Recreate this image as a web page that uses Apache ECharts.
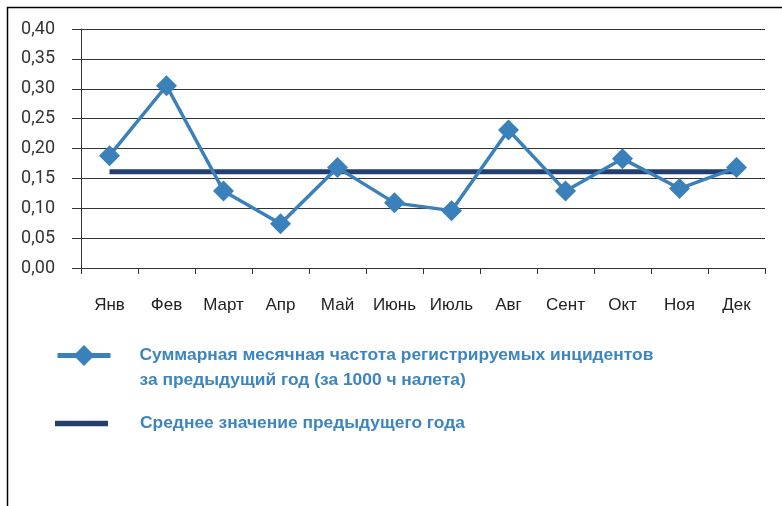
<!DOCTYPE html>
<html>
<head>
<meta charset="utf-8">
<script src="https://cdn.jsdelivr.net/npm/echarts@6/dist/echarts.min.js"></script>
<style>
  html, body { margin: 0; padding: 0; background: #fff; }
  #main { width: 782px; height: 506px; }
</style>
</head>
<body>
<div id="main"></div>
<script>
// данные графика
var months = ['Янв', 'Фев', 'Март', 'Апр', 'Май', 'Июнь', 'Июль', 'Авг', 'Сент', 'Окт', 'Ноя', 'Дек'];
var monthly = [0.188, 0.305, 0.129, 0.074, 0.168, 0.109, 0.096, 0.231, 0.129, 0.183, 0.133, 0.168];
var average = [0.161, 0.161, 0.161, 0.161, 0.161, 0.161, 0.161, 0.161, 0.161, 0.161, 0.161, 0.161];
var yTicks = [0, 0.4, 0.05];   // min, max, шаг

var nameMonthly = 'Суммарная месячная частота регистрируемых инцидентов\nза предыдущий год (за 1000 ч налета)';
var nameAverage = 'Среднее значение предыдущего года';

var myChart = echarts.init(document.getElementById('main'));

option = {
    animation: false,
    backgroundColor: '#fff',
    graphic: [{
        type: 'rect',
        shape: { x: 7.5, y: 7.5, width: 900, height: 600 },
        style: { fill: 'none', stroke: '#000', lineWidth: 1.5 },
        silent: true
    }],
    grid: { left: 81, right: 17, top: 29, bottom: 238 },
    legend: [{
        data: [nameMonthly],
        left: 55,
        top: 318,
        padding: 0,
        itemWidth: 53,
        itemHeight: 26,
        lineStyle: { width: 5 },
        // пустая первая строка, чтобы значок стоял напротив первой строки текста
        formatter: function (name) { return ' \n' + name; },
        textStyle: {
            color: '#3d85c0', fontFamily: 'Liberation Sans', fontWeight: 'bold',
            fontSize: 17.4, lineHeight: 25, padding: [0, 0, 0, 24]
        }
    }, {
        data: [{ name: nameAverage, icon: 'path://M0,0H100V10H0Z' }],
        left: 55,
        top: 415,
        padding: 0,
        itemWidth: 53,
        itemHeight: 22,
        textStyle: {
            color: '#3d85c0', fontFamily: 'Liberation Sans', fontWeight: 'bold',
            fontSize: 17.4, padding: [0, 0, 0, 27]
        }
    }],
    xAxis: {
        type: 'category',
        data: months,
        boundaryGap: true,
        axisLine: { lineStyle: { color: '#333', width: 1 } },
        axisTick: { show: true, length: 6, lineStyle: { color: '#333' } },
        axisLabel: { color: '#222', fontFamily: 'Liberation Sans', fontSize: 17, margin: 29, interval: 0 },
        splitLine: { show: false }
    },
    yAxis: {
        type: 'value',
        min: yTicks[0],
        max: yTicks[1],
        interval: yTicks[2],
        axisLine: { show: true, lineStyle: { color: '#333', width: 1 } },
        axisTick: { show: true, length: 9, lineStyle: { color: '#333' } },
        axisLabel: {
            color: '#333', fontFamily: 'Roboto', fontSize: 18, margin: 26,
            formatter: function (v) { return v.toFixed(2).replace('.', ','); }
        },
        splitLine: { show: true, lineStyle: { color: '#333', width: 1 } }
    },
    series: [{
        name: nameMonthly,
        type: 'line',
        data: monthly,
        symbol: 'diamond',
        symbolSize: 21,
        z: 3,
        lineStyle: { color: '#3a80bb', width: 3.5 },
        itemStyle: { color: '#3a80bb' }
    }, {
        name: nameAverage,
        type: 'line',
        data: average,
        symbol: 'none',
        z: 2,
        lineStyle: { color: '#243f6e', width: 5 },
        itemStyle: { color: '#243f6e' }
    }]
};

myChart.setOption(option);
</script>
</body>
</html>
